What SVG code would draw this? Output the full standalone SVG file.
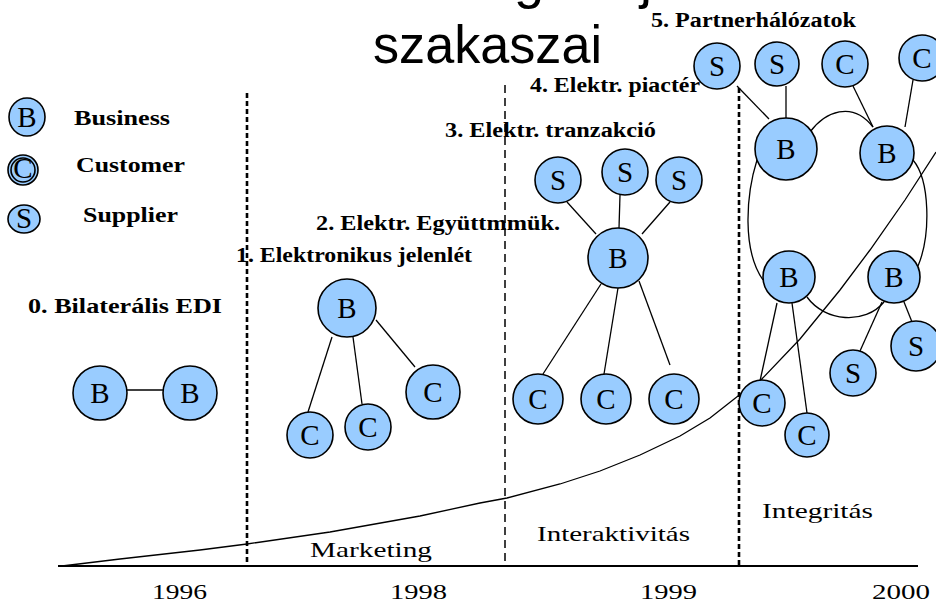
<svg xmlns="http://www.w3.org/2000/svg" width="936" height="605" viewBox="0 0 936 605">
<style>
.n{fill:#99ccff;stroke:#000;stroke-width:1.6}
.l{font-family:"Liberation Serif","Times New Roman",serif;font-size:29px;text-anchor:middle;fill:#000}
.t{font-family:"Liberation Serif","Times New Roman",serif;font-size:20px;font-weight:bold;fill:#000}
.r{font-family:"Liberation Serif","Times New Roman",serif;font-size:22px;fill:#000}
.e{stroke:#000;stroke-width:1.3;fill:none}
.d1{stroke:#000;stroke-width:2.6;stroke-dasharray:5 3;fill:none}
.d2{stroke:#000;stroke-width:1.5;stroke-dasharray:8 5;fill:none}
.ti{font-family:"Liberation Sans",Arial,sans-serif;font-size:54px;fill:#000}
</style>
<rect width="936" height="605" fill="#fff"/>
<g id="title">
<text class="ti" x="514" y="-2">g</text>
<text class="ti" x="640" y="-2">j</text>
<text class="ti" x="373" y="63" textLength="229" lengthAdjust="spacingAndGlyphs">szakaszai</text>
</g>
<g id="axis">
<line x1="58" y1="566" x2="918" y2="566" stroke="#000" stroke-width="2"/>
<line class="d1" x1="247" y1="93" x2="247" y2="565"/>
<line class="d2" x1="505" y1="85" x2="505" y2="565"/>
<line class="d1" x1="739" y1="88" x2="739" y2="565"/>
<text class="r" x="152" y="599" textLength="55" lengthAdjust="spacingAndGlyphs">1996</text>
<text class="r" x="390" y="599" textLength="57" lengthAdjust="spacingAndGlyphs">1998</text>
<text class="r" x="640" y="599" textLength="57" lengthAdjust="spacingAndGlyphs">1999</text>
<text class="r" x="872" y="599" textLength="58" lengthAdjust="spacingAndGlyphs">2000</text>
<text class="r" x="310" y="557" textLength="122" lengthAdjust="spacingAndGlyphs">Marketing</text>
<text class="r" x="537" y="541" textLength="153" lengthAdjust="spacingAndGlyphs">Interaktivitás</text>
<text class="r" x="762" y="518" textLength="111" lengthAdjust="spacingAndGlyphs">Integritás</text>
</g>
<g id="growth-curve">
<path class="e" d="M62,566 L120,559 L200,550 L247,544 L330,532 L420,516 L480,503 L507,498 L560,484 L600,471 L640,455 L680,436 L710,418 L738,396 L760,381 L800,339 L840,290 L870,250 L905,200 L936,152"/>
</g>
<g id="labels">
<text class="t" x="74" y="125" textLength="96" lengthAdjust="spacingAndGlyphs">Business</text>
<text class="t" x="76" y="172" textLength="109" lengthAdjust="spacingAndGlyphs">Customer</text>
<text class="t" x="83" y="222" textLength="95" lengthAdjust="spacingAndGlyphs">Supplier</text>
<text class="t" x="28" y="313" textLength="194" lengthAdjust="spacingAndGlyphs">0. Bilaterális EDI</text>
<text class="t" x="236" y="262" textLength="236" lengthAdjust="spacingAndGlyphs">1. Elektronikus jelenlét</text>
<text class="t" x="316" y="230" textLength="244" lengthAdjust="spacingAndGlyphs">2. Elektr. Együttmmük.</text>
<text class="t" x="445" y="137" textLength="211" lengthAdjust="spacingAndGlyphs">3. Elektr. tranzakció</text>
<text class="t" x="530" y="92" textLength="170" lengthAdjust="spacingAndGlyphs">4. Elektr. piactér</text>
<text class="t" x="651" y="27" textLength="205" lengthAdjust="spacingAndGlyphs">5. Partnerhálózatok</text>
</g>
<g id="connectors">
<line class="e" x1="127" y1="390" x2="163" y2="390"/>
<line class="e" x1="332" y1="337" x2="308" y2="412"/>
<line class="e" x1="353" y1="337" x2="362" y2="404"/>
<line class="e" x1="376" y1="320" x2="415" y2="367"/>
<line class="e" x1="567" y1="202" x2="596" y2="234"/>
<line class="e" x1="620" y1="195" x2="619" y2="228"/>
<line class="e" x1="670" y1="202" x2="642" y2="234"/>
<line class="e" x1="601" y1="284" x2="543" y2="374"/>
<line class="e" x1="618" y1="288" x2="604" y2="374"/>
<line class="e" x1="639" y1="281" x2="670" y2="365"/>
<line class="e" x1="737" y1="86" x2="769" y2="119"/>
<line class="e" x1="786" y1="86" x2="786" y2="118"/>
<line class="e" x1="853" y1="86" x2="873" y2="127"/>
<line class="e" x1="913" y1="80" x2="905" y2="127"/>
<path class="e" d="M810,132 C825,112 852,100 873,127"/>
<path class="e" d="M757,160 C746,195 742,250 763,280"/>
<path class="e" d="M913,160 C930,180 931,235 918,266"/>
<path class="e" d="M807,297 C825,322 865,325 884,302"/>
<line class="e" x1="777" y1="303" x2="760" y2="381"/>
<line class="e" x1="792" y1="303" x2="807" y2="413"/>
<line class="e" x1="882" y1="302" x2="860" y2="351"/>
<line class="e" x1="904" y1="302" x2="912" y2="322"/>
</g>
<g id="legend-b"><ellipse class="n" cx="27" cy="117" rx="18" ry="19"/><text class="l" x="27" y="127">B</text></g>
<g id="legend-c"><circle class="n" cx="23" cy="170" r="15" stroke-width="1.2"/><circle class="n" cx="23" cy="170" r="12" stroke-width="1"/><text class="l" x="23" y="177.5" font-size="21">C</text></g>
<g id="legend-s"><ellipse class="n" cx="24" cy="219" rx="16" ry="14"/><text class="l" x="24" y="228" font-size="25">S</text></g>
<g id="s0-b1"><circle class="n" cx="100" cy="393" r="27"/><text class="l" x="100" y="403">B</text></g>
<g id="s0-b2"><circle class="n" cx="190" cy="393" r="27"/><text class="l" x="190" y="403">B</text></g>
<g id="s1-b"><circle class="n" cx="347" cy="308" r="29"/><text class="l" x="347" y="318">B</text></g>
<g id="s1-c1"><circle class="n" cx="310" cy="435" r="23"/><text class="l" x="310" y="445">C</text></g>
<g id="s1-c2"><circle class="n" cx="368" cy="427" r="23"/><text class="l" x="368" y="437">C</text></g>
<g id="s1-c3"><circle class="n" cx="433" cy="392" r="27"/><text class="l" x="433" y="402">C</text></g>
<g id="s3-s1"><circle class="n" cx="558" cy="180" r="23"/><text class="l" x="558" y="190">S</text></g>
<g id="s3-s2"><circle class="n" cx="625" cy="172" r="23"/><text class="l" x="625" y="182">S</text></g>
<g id="s3-s3"><circle class="n" cx="679" cy="180" r="23"/><text class="l" x="679" y="190">S</text></g>
<g id="s3-b"><circle class="n" cx="618" cy="258" r="30"/><text class="l" x="618" y="268">B</text></g>
<g id="s3-c1"><circle class="n" cx="538" cy="399" r="25"/><text class="l" x="538" y="409">C</text></g>
<g id="s3-c2"><circle class="n" cx="606" cy="399" r="25"/><text class="l" x="606" y="409">C</text></g>
<g id="s3-c3"><circle class="n" cx="674" cy="399" r="25"/><text class="l" x="674" y="409">C</text></g>
<g id="s5-s1"><circle class="n" cx="717" cy="66" r="23"/><text class="l" x="717" y="76">S</text></g>
<g id="s5-s2"><circle class="n" cx="777" cy="64" r="22"/><text class="l" x="777" y="74">S</text></g>
<g id="s5-c1"><circle class="n" cx="845" cy="64" r="23"/><text class="l" x="845" y="74">C</text></g>
<g id="s5-c2"><circle class="n" cx="922" cy="58" r="23"/><text class="l" x="922" y="68">C</text></g>
<g id="s5-b1"><circle class="n" cx="786" cy="149" r="31"/><text class="l" x="786" y="159">B</text></g>
<g id="s5-b2"><circle class="n" cx="887" cy="153" r="27"/><text class="l" x="887" y="163">B</text></g>
<g id="s5-b3"><circle class="n" cx="789" cy="277" r="26"/><text class="l" x="789" y="287">B</text></g>
<g id="s5-b4"><circle class="n" cx="894" cy="277" r="26"/><text class="l" x="894" y="287">B</text></g>
<g id="s5-s3"><circle class="n" cx="916" cy="346" r="25"/><text class="l" x="916" y="356">S</text></g>
<g id="s5-s4"><circle class="n" cx="853" cy="373" r="23"/><text class="l" x="853" y="383">S</text></g>
<g id="s5-c5"><circle class="n" cx="762" cy="403" r="23"/><text class="l" x="762" y="413">C</text></g>
<g id="s5-c6"><circle class="n" cx="807" cy="435" r="22"/><text class="l" x="807" y="445">C</text></g>
</svg>
